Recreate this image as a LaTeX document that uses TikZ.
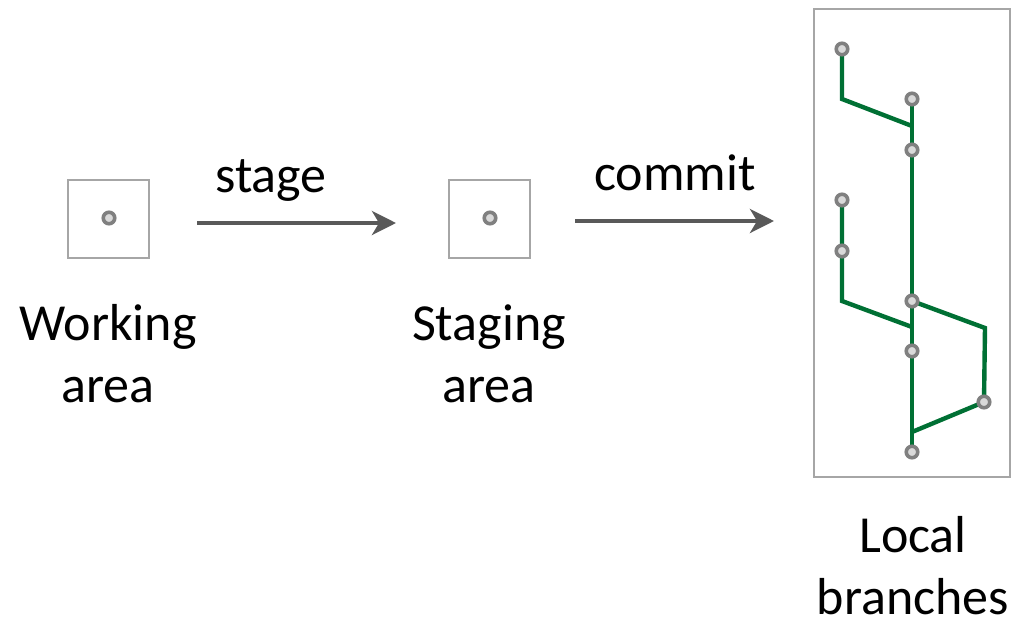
\documentclass[tikz,border=0pt]{standalone}
\usepackage{fontspec}
\setmainfont{Carlito}
\usetikzlibrary{arrows.meta}
\definecolor{branchgreen}{RGB}{0,112,52}
\definecolor{boxgray}{RGB}{166,166,166}
\definecolor{dotgray}{RGB}{128,128,128}
\definecolor{dotfill}{RGB}{217,217,217}
\definecolor{arrowgray}{RGB}{89,89,89}
\begin{document}
\begin{tikzpicture}[x=1pt,y=-1pt,
  commit/.style={circle,draw=dotgray,fill=dotfill,line width=3.6pt,minimum size=11.5pt,inner sep=0pt},
  frame/.style={draw=boxgray,line width=2.4pt},
  branch/.style={draw=branchgreen,line width=4.4pt},
  flow/.style={draw=arrowgray,line width=4pt,-{Stealth[length=24pt,width=24pt,inset=7pt]}},
  lbl/.style={font=\fontsize{52}{62}\selectfont,align=center,inner sep=0pt,anchor=base}]
\useasboundingbox (0,0) rectangle (1015,621);
% small boxes
\node[frame,minimum width=81pt,minimum height=78pt,inner sep=0pt] (wbox) at (108.5,219) {};
\node[frame,minimum width=81pt,minimum height=78pt,inner sep=0pt] (sbox) at (489.5,219) {};
% local branches box
\node[frame,minimum width=196pt,minimum height=468pt,inner sep=0pt] (lbox) at (912,243) {};
% branch line coordinates
\coordinate (a1) at (842,99);
\coordinate (m1) at (912,126);
\coordinate (e1) at (842,301);
\coordinate (m2) at (912,327);
\coordinate (f1) at (985,328);
\coordinate (m3) at (912,432);
% commits (coordinates first, drawn after the lines)
\coordinate (a) at (842,49);
\coordinate (b) at (912,99);
\coordinate (c) at (912,150);
\coordinate (d) at (842,200);
\coordinate (e) at (842,251);
\coordinate (f) at (912,301);
\coordinate (g) at (912,351);
\coordinate (h) at (984,402);
\coordinate (i) at (912,452);
\path[branch] (a) -- (a1) -- (m1);
\path[branch] (b) -- (c) -- (f) -- (g) -- (i);
\path[branch] (d) -- (e) -- (e1) -- (m2);
\path[branch] (f) -- (f1) -- (h) -- (m3);
\foreach \n in {a,b,c,d,e,f,g,h,i}
  \node[commit] (n\n) at (\n) {};
\node[commit] (wdot) at (109,218) {};
\node[commit] (sdot) at (490,218) {};
% arrows
\coordinate (s0) at (197,223);
\coordinate (s1) at (396,223);
\coordinate (c0) at (575,221);
\coordinate (c1) at (774,221);
\draw[flow] (s0) -- (s1);
\draw[flow] (c0) -- (c1);
\node[lbl] (stage) at (271,192) {stage};
\node[lbl] (commitlbl) at (675,190) {commit};
% labels (base = baseline of last line)
\node[lbl] (wl) at (108,402) {Working\\area};
\node[lbl] (sl) at (489,402) {Staging\\area};
\node[lbl] (ll) at (913,614) {Local\\branches};
\end{tikzpicture}
\end{document}
